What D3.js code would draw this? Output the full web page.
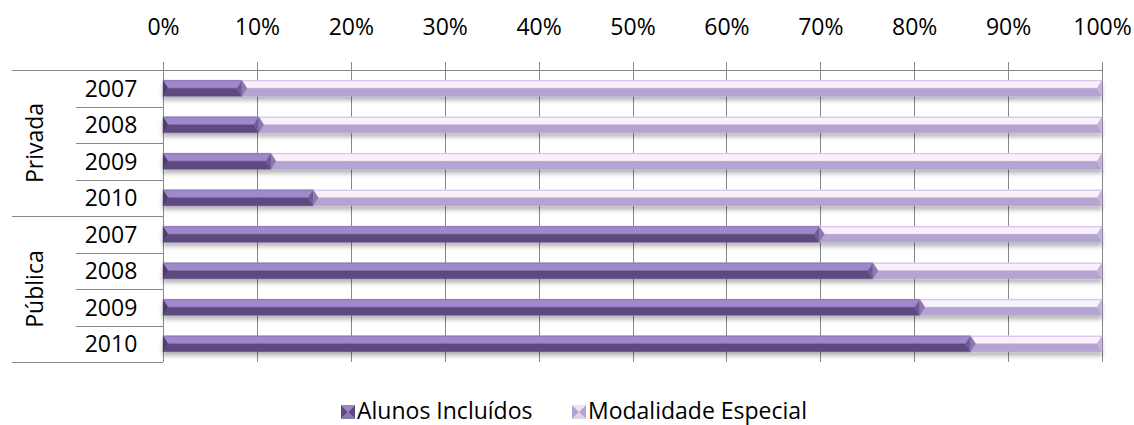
<!DOCTYPE html>
<html>
<head>
<meta charset="utf-8">
<script src="https://cdn.jsdelivr.net/npm/d3@7/dist/d3.min.js"></script>
<style>
  html, body { margin: 0; padding: 0; background: #fff; }
  svg { display: block; }
  text { font-family: "Open Sans", Carlito, Calibri, sans-serif; fill: #000; }
</style>
</head>
<body>
<svg id="chart" width="1134" height="425"></svg>
<script>
// Share of special-education students by school network and year
const groups = ["Privada", "Pública"];
const years = ["2007", "2008", "2009", "2010"];
const incluidos = [8.4, 10.2, 11.5, 16.0, 69.9, 75.6, 80.6, 86.0];   // Alunos Incluídos (%)
const especial  = [91.6, 89.8, 88.5, 84.0, 30.1, 24.4, 19.4, 14.0];  // Modalidade Especial (%)
const seriesNames = ["Alunos Incluídos", "Modalidade Especial"];
const tickValues = [0, 0.1, 0.2, 0.3, 0.4, 0.5, 0.6, 0.7, 0.8, 0.9, 1];

const rows = [];
groups.forEach((g, gi) => years.forEach((y, yi) => {
  const i = gi * years.length + yi;
  rows.push({ key: g + "-" + y, group: g, year: y, vals: [incluidos[i], especial[i]] });
}));

const svg = d3.select("#chart");
const plotLeft = 163, plotRight = 1102, plotTop = 70, plotBottom = 362;
const gridColor = "#878787";
const fontSize = 23;

const x = d3.scaleLinear().domain([0, 1]).range([plotLeft, plotRight]);
const yBand = d3.scaleBand().domain(rows.map(r => r.key)).range([plotTop, plotBottom])
  .paddingInner(0.56).paddingOuter(0.28);
const rowBand = d3.scaleBand().domain(rows.map(r => r.key)).range([plotTop, plotBottom]);

// Shadow under each bar
const defs = svg.append("defs");
const f = defs.append("filter").attr("id", "barShadow")
  .attr("x", "-5%").attr("y", "-50%").attr("width", "110%").attr("height", "220%");
f.append("feDropShadow").attr("dx", 0).attr("dy", 4).attr("stdDeviation", 2)
  .attr("flood-color", "#000").attr("flood-opacity", 0.28);

// Vertical gridlines
svg.append("g").selectAll("line").data(tickValues).join("line")
  .attr("x1", d => Math.round(x(d)) + 0.5).attr("x2", d => Math.round(x(d)) + 0.5)
  .attr("y1", 62).attr("y2", plotBottom)
  .attr("stroke", gridColor).attr("stroke-width", 1);

// Top axis labels
const axis = d3.axisTop(x).tickValues(tickValues).tickFormat(d3.format(".0%")).tickSize(0).tickPadding(0);
const axG = svg.append("g").attr("transform", "translate(0,35)").call(axis);
axG.select(".domain").remove();
axG.selectAll("text").attr("font-size", fontSize).attr("dy", 0)
  .style("font-family", "'Open Sans', Carlito, Calibri, sans-serif").attr("fill", "#000");

// Horizontal structure lines of the category axis
const lines = svg.append("g").attr("stroke", gridColor).attr("stroke-width", 1);
lines.append("line").attr("x1", 12).attr("x2", plotRight + 0.5).attr("y1", plotTop + 0.5).attr("y2", plotTop + 0.5);
lines.append("line").attr("x1", 12).attr("x2", plotLeft).attr("y1", plotBottom + 0.5).attr("y2", plotBottom + 0.5);
rows.forEach((r, i) => {
  if (i === 0) return;
  const yy = Math.round(rowBand(r.key)) + 0.5;
  const groupStart = i % years.length === 0;
  lines.append("line").attr("x1", groupStart ? 12 : 76).attr("x2", plotLeft).attr("y1", yy).attr("y2", yy);
});

// Year labels
svg.append("g").selectAll("text").data(rows).join("text")
  .attr("x", 111).attr("y", d => rowBand(d.key) + rowBand.bandwidth() / 2 + 8.5)
  .attr("text-anchor", "middle").attr("font-size", fontSize).text(d => d.year);

// Group labels (rotated)
groups.forEach((g, gi) => {
  const y0 = rowBand(g + "-" + years[0]);
  const y1 = rowBand(g + "-" + years[years.length - 1]) + rowBand.bandwidth();
  svg.append("text").attr("transform", `translate(43,${(y0 + y1) / 2}) rotate(-90)`)
    .attr("text-anchor", "middle").attr("font-size", fontSize).text(g);
});

// Bevel palettes: top, bottom, left, right faces
const palettes = [
  { top: "#9f89cb", bottom: "#5e4a81", left: "#4d3c6c", right: "#6f5a96", edge: "#8d76bb", lgTop: "#9a84c6", lgBottom: "#8a74b8" },
  { top: "#f8f1fc", bottom: "#b5a3d2", left: "#8c79b1", right: "#c4b4dd", edge: "#cbbbe4", lgTop: "#ece3f6", lgBottom: "#ddd2ee" }
];

function bevelFaces(x0, x1, y0, h) {
  const y1 = y0 + h, ym = y0 + h / 2;
  const w = Math.min(5, (x1 - x0) / 2);
  return {
    top: [[x0, y0], [x1, y0], [x1 - w, ym], [x0 + w, ym]],
    bottom: [[x0, y1], [x1, y1], [x1 - w, ym], [x0 + w, ym]],
    left: [[x0, y0], [x0 + w, ym], [x0, y1]],
    right: [[x1, y0], [x1 - w, ym], [x1, y1]]
  };
}

const stack = d3.stack().keys([0, 1]).value((d, k) => d.vals[k]).offset(d3.stackOffsetExpand);
const stacked = stack(rows);

const barsG = svg.append("g");
rows.forEach((r, ri) => {
  const g = barsG.append("g").attr("filter", "url(#barShadow)");
  stacked.forEach((s, si) => {
    const seg = s[ri];
    const x0 = x(seg[0]), x1 = x(seg[1]);
    const y0 = yBand(r.key), h = yBand.bandwidth();
    const faces = bevelFaces(x0, x1, y0, h);
    const p = palettes[si];
    ["top", "bottom", "left", "right"].forEach(k => {
      g.append("polygon").attr("points", faces[k].map(pt => pt.join(",")).join(" "))
        .attr("fill", p[k]).attr("stroke", p[k]).attr("stroke-width", 0.4);
    });
    g.append("line").attr("x1", x0).attr("x2", x1).attr("y1", y0 + 0.5).attr("y2", y0 + 0.5)
      .attr("stroke", p.edge).attr("stroke-width", 1);
  });
});

// Legend
const legendItems = [{ name: seriesNames[0], x: 341, p: palettes[0] }, { name: seriesNames[1], x: 572, p: palettes[1] }];
legendItems.forEach(item => {
  const s = 14, lx = item.x, ly = 405;
  const c = [lx + s / 2, ly + s / 2];
  const tri = (a, b) => [a, b, c].map(pt => pt.join(",")).join(" ");
  const lg = svg.append("g");
  lg.append("polygon").attr("points", tri([lx, ly], [lx + s, ly])).attr("fill", item.p.lgTop);
  lg.append("polygon").attr("points", tri([lx, ly + s], [lx + s, ly + s])).attr("fill", item.p.lgBottom);
  lg.append("polygon").attr("points", tri([lx, ly], [lx, ly + s])).attr("fill", item.p.bottom);
  lg.append("polygon").attr("points", tri([lx + s, ly], [lx + s, ly + s])).attr("fill", item.p.bottom);
  svg.append("text").attr("x", lx + 16).attr("y", 419).attr("font-size", fontSize).text(item.name);
});
</script>
</body>
</html>
